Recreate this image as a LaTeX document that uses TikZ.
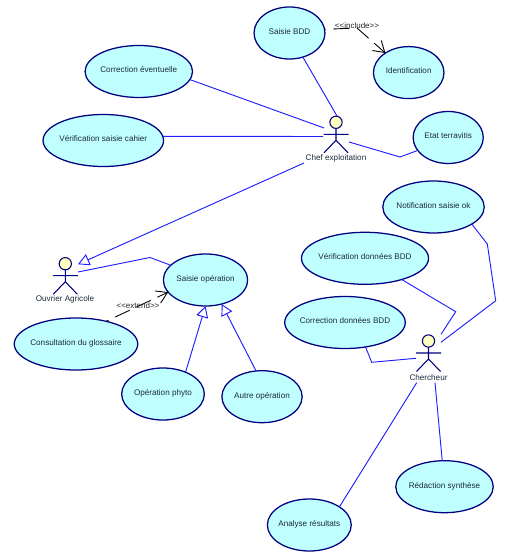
\documentclass[tikz,border=0pt]{standalone}
\usepackage{fontspec}
\setmainfont{Liberation Sans}
\usetikzlibrary{shapes.geometric,arrows.meta}
\definecolor{usefill}{HTML}{BFFFFF}
\definecolor{usedraw}{HTML}{000080}
\definecolor{linkblue}{HTML}{1E1EFF}
\definecolor{headfill}{HTML}{FFFFC0}
\definecolor{labeltxt}{HTML}{1A2A3A}
\tikzset{
  usecase/.style={ellipse,draw=usedraw,fill=usefill,line width=0.95pt,inner ysep=0pt,inner xsep=-25pt,outer sep=0pt,
    font=\fontsize{6.1}{7}\selectfont,text=labeltxt,minimum height=39pt,text height=4.5pt,text depth=2.4pt},
  link/.style={draw=linkblue,line width=0.7pt},
  gen/.style={link,-{Triangle[open,fill=white,length=8.5pt,width=9pt]}},
  dep/.style={draw=black,line width=0.65pt,dash pattern=on 12pt off 5.5pt,
    -{Straight Barb[length=8pt,width=10pt,line width=0.65pt]}},
  actorname/.style={font=\fontsize{6.1}{7}\selectfont,text=labeltxt,inner sep=0pt},
  deplabel/.style={font=\fontsize{6}{7}\selectfont,text=black!85,inner sep=0pt},
  pics/umlactor/.style={code={
    \draw[usedraw,line width=0.8pt,fill=headfill] (0,-12) circle[radius=4.6pt];
    \draw[usedraw,line width=0.8pt] (0,-6) -- (0,6)
      (-12.5,0) -- (12.5,0)
      (-12,18.5) -- (0,6) -- (12,18.5);
  }}
}
\begin{document}
\begin{tikzpicture}[x=0.75pt,y=-0.75pt]
\useasboundingbox (0,0) rectangle (513,555);
% use cases
\node[usecase,minimum width=53.2pt] (saisiebdd) at (289.5,33) {Saisie BDD};
\node[usecase,minimum width=52.9pt] (identif) at (408.7,72.6) {Identification};
\node[usecase,minimum width=52.6pt] (etat) at (448.2,137.5) {Etat terravitis};
\node[usecase,minimum width=80.6pt] (correv) at (138.8,71.5) {Correction éventuelle};
\node[usecase,minimum width=90.4pt] (verifcahier) at (103.3,140.5) {Vérification saisie cahier};
\node[usecase,minimum width=76.1pt] (notif) at (433.5,207) {Notification saisie ok};
\node[usecase,minimum width=95.3pt] (verifbdd) at (365,258.3) {Vérification données BDD};
\node[usecase,minimum width=90.4pt] (corrbdd) at (345,322.5) {Correction données BDD};
\node[usecase,minimum width=63.2pt] (saisieop) at (205.5,280) {Saisie opération};
\node[usecase,minimum width=92.6pt] (consult) at (76,344) {Consultation du glossaire};
\node[usecase,minimum width=62pt] (phyto) at (163,394) {Opération phyto};
\node[usecase,minimum width=60.2pt] (autre) at (262,396.7) {Autre opération};
\node[usecase,minimum width=73.1pt] (redac) at (444.5,486.7) {Rédaction synthèse};
\node[usecase,minimum width=62.9pt] (analyse) at (309.3,525) {Analyse résultats};
% actors
\pic at (336,134.3) {umlactor};
\pic at (65.3,275.7) {umlactor};
\pic at (428.5,353) {umlactor};
\node[actorname] (chefname) at (336,158) {Chef exploitation};
\node[actorname] (ouvname) at (65,299) {Ouvrier Agricole};
\node[actorname] (cherchname) at (428.5,377.5) {Chercheur};
% free ends beside the actors
\coordinate (chefN) at (337,116);
\coordinate (chefA) at (324,128);
\coordinate (chefB) at (323,136.5);
\coordinate (chefC) at (349,142);
\coordinate (chefD) at (304,163);
\coordinate (ouvA) at (78,264.3);
\coordinate (ouvB) at (78,272);
\coordinate (chA) at (441,342.3);
\coordinate (chB) at (441,334.3);
\coordinate (chC) at (416,358.3);
\coordinate (chD) at (416.7,382.7);
\coordinate (chE) at (435,382.7);
% associations
\draw[link] (saisiebdd.-61.6) -- (chefN);
\draw[link] (correv.-9.2) -- (chefA);
\draw[link] (verifcahier.4.5) -- (chefB);
\draw[link] (chefC) -- (400,157) -- (etat.203.5);
\draw[gen] (chefD) -- (ouvA);
\draw[link] (ouvB) -- (150,257.5) -- (saisieop.157);
\draw[gen] (phyto.44.4) -- (saisieop.-90);
\draw[gen] (autre.103) -- (saisieop.-56);
\draw[link] (notif.-24.7) -- (487.3,244) -- (495.7,300.7) -- (chA);
\draw[link] (verifbdd.-30.5) -- (455.7,311.7) -- (chB);
\draw[link] (corrbdd.-50.9) -- (371.7,362.3) -- (chC);
\draw[link] (chD) -- (analyse.31.8);
\draw[link] (chE) -- (redac.95);
% dependencies
\draw[dep,dash phase=11pt] (saisiebdd.6.3) -- (357,28) -- (identif.140.8);
\draw[dep,dash phase=10pt] (consult.37.8) -- (saisieop.198.7);
\node[deplabel] (inclabel) at (357,26) {<{}<include>{}>};
\node[deplabel] (extlabel) at (138,306) {<{}<extend>{}>};
\end{tikzpicture}
\end{document}
